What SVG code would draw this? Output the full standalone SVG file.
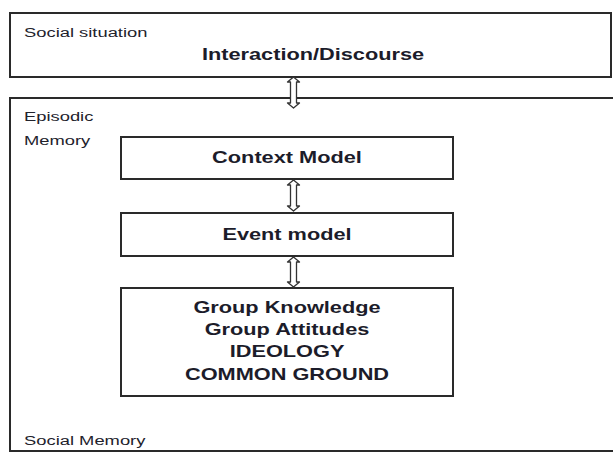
<svg xmlns="http://www.w3.org/2000/svg" width="613" height="453" viewBox="0 0 613 453">
<style>
.box{fill:#fff;stroke:#2a2a2a;stroke-width:2}
.lbl{font-family:"Liberation Sans",Arial,sans-serif;font-size:13.5px;fill:#22222c}
.bold{font-family:"Liberation Sans",Arial,sans-serif;font-size:16px;font-weight:bold;fill:#1c1c2a;text-anchor:middle}
.arr{fill:#fff;stroke:#333;stroke-width:1.3;stroke-linejoin:round}
</style>
<rect width="613" height="453" fill="#fff"/>
<g id="social-situation">
<rect class="box" x="10" y="13" width="601" height="64"/>
<text class="lbl" transform="translate(24,37) scale(1.36,1)">Social situation</text>
<text class="bold" transform="translate(313,60) scale(1.36,1)">Interaction/Discourse</text>
</g>
<g id="social-memory">
<rect class="box" x="10" y="98" width="615" height="353"/>
<text class="lbl" transform="translate(24,121) scale(1.36,1)">Episodic</text>
<text class="lbl" transform="translate(24,145) scale(1.36,1)">Memory</text>
<text class="lbl" transform="translate(24,445) scale(1.36,1)">Social Memory</text>
</g>
<g id="context-model">
<rect class="box" x="121" y="137" width="332" height="42"/>
<text class="bold" transform="translate(287,163) scale(1.36,1)">Context Model</text>
</g>
<g id="event-model">
<rect class="box" x="121" y="213" width="332" height="43"/>
<text class="bold" transform="translate(287,240) scale(1.36,1)">Event model</text>
</g>
<g id="group-knowledge">
<rect class="box" x="121" y="288" width="332" height="108"/>
<text class="bold" transform="translate(287,313) scale(1.36,1)">Group Knowledge</text>
<text class="bold" transform="translate(287,335) scale(1.36,1)">Group Attitudes</text>
<text class="bold" transform="translate(287,357) scale(1.36,1)">IDEOLOGY</text>
<text class="bold" transform="translate(287,380) scale(1.36,1)">COMMON GROUND</text>
</g>
<g id="connectors">
<path class="arr" d="M293.5,77 L299.5,82 L296.5,82 L296.5,103 L299.5,103 L293.5,108 L287.5,103 L290.5,103 L290.5,82 L287.5,82 Z"/>
<path class="arr" d="M293.5,180 L299.5,185 L296.5,185 L296.5,206 L299.5,206 L293.5,211 L287.5,206 L290.5,206 L290.5,185 L287.5,185 Z"/>
<path class="arr" d="M293.5,257 L299.5,262 L296.5,262 L296.5,282 L299.5,282 L293.5,287 L287.5,282 L290.5,282 L290.5,262 L287.5,262 Z"/>
</g>
</svg>
